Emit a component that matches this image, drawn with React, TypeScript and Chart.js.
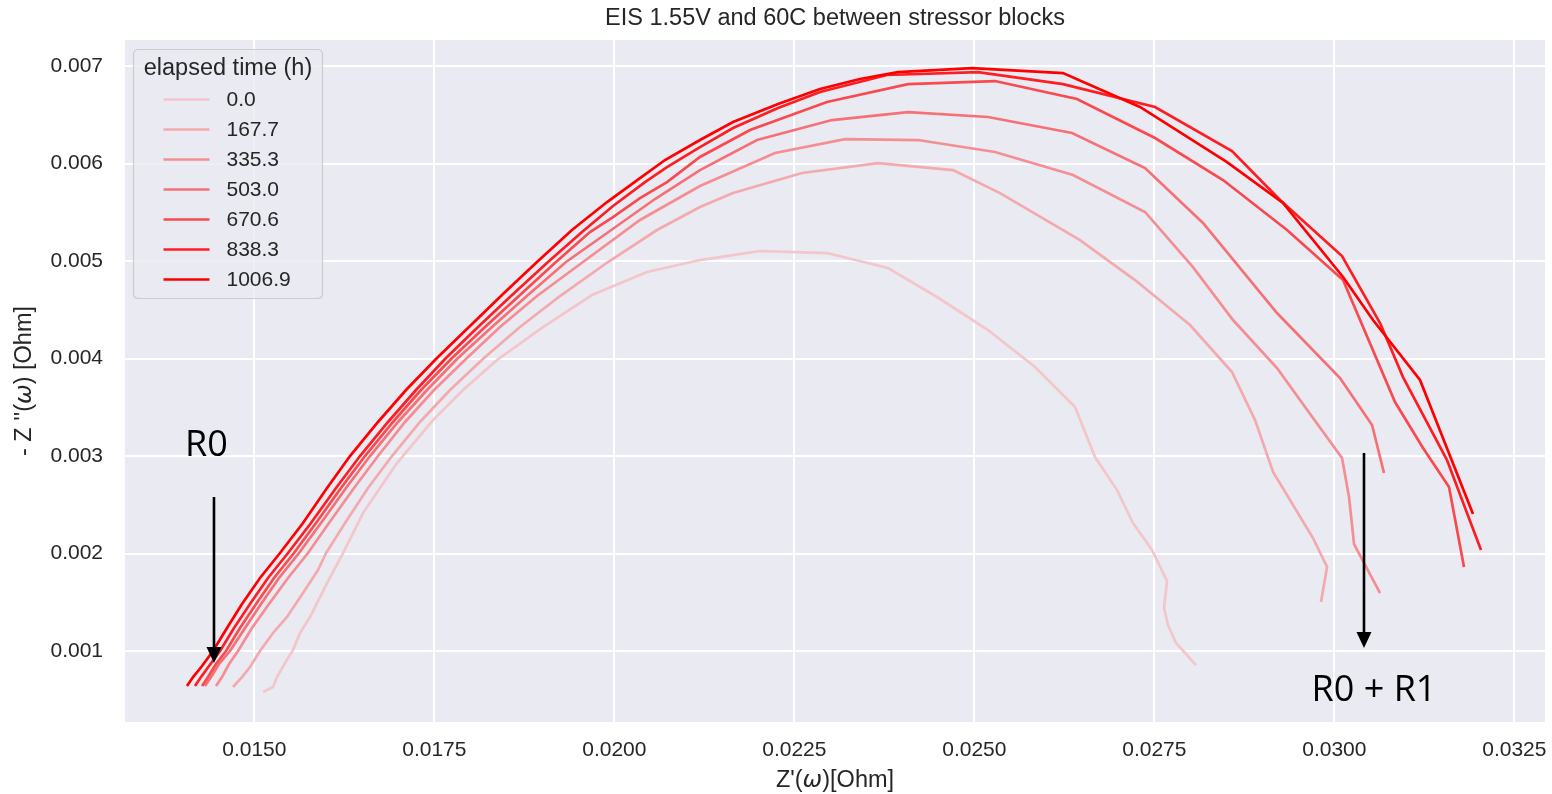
import React, { useEffect, useRef } from "react";
import { Chart, registerables } from "chart.js";

Chart.register(...registerables);

// ---------- data ----------
const seriesLabels = ["0.0", "167.7", "335.3", "503.0", "670.6", "838.3", "1006.9"];
const seriesColors = ["#f2c6ca", "#f3aaae", "#f48e93", "#f57176", "#f84a4f", "#fc1e22", "#ff0000"];

const re_0_0 = [0.015121, 0.01526, 0.015315, 0.015426, 0.015537, 0.015635, 0.015774, 0.01601, 0.016232, 0.01651, 0.016746, 0.016982, 0.017482, 0.017899, 0.018371, 0.01901, 0.01969, 0.020454, 0.02119, 0.022024, 0.022954, 0.023801, 0.024482, 0.02519, 0.025843, 0.026399, 0.026676, 0.026982, 0.027204, 0.027468, 0.027676, 0.027635, 0.02769, 0.027801, 0.028079];
const im_0_0 = [0.00058, 0.000631, 0.000733, 0.000877, 0.00101, 0.001185, 0.001349, 0.001697, 0.002005, 0.002415, 0.002672, 0.002928, 0.003369, 0.003677, 0.003985, 0.004323, 0.004651, 0.004887, 0.00501, 0.005103, 0.005082, 0.004928, 0.004631, 0.004292, 0.003913, 0.003503, 0.00299, 0.002651, 0.002313, 0.002036, 0.001718, 0.001441, 0.001267, 0.001082, 0.000856];

const re_167_7 = [0.014704, 0.014829, 0.01494, 0.015079, 0.01526, 0.015454, 0.015676, 0.015885, 0.015996, 0.01626, 0.016579, 0.016912, 0.017301, 0.017718, 0.01819, 0.01869, 0.019246, 0.019912, 0.020593, 0.02119, 0.021649, 0.022607, 0.023662, 0.024704, 0.025357, 0.026468, 0.027232, 0.027996, 0.028579, 0.028899, 0.029149, 0.029704, 0.029899, 0.029815];
const im_167_7 = [0.000631, 0.000733, 0.000836, 0.001, 0.001185, 0.001349, 0.001595, 0.001831, 0.002005, 0.002313, 0.002672, 0.003, 0.003349, 0.003677, 0.004005, 0.004323, 0.004641, 0.00499, 0.005318, 0.005554, 0.005697, 0.005903, 0.006005, 0.005933, 0.005697, 0.005215, 0.004805, 0.004344, 0.003862, 0.003369, 0.002836, 0.002159, 0.001862, 0.001503];

const re_335_3 = [0.014468, 0.014551, 0.014649, 0.014774, 0.014968, 0.015204, 0.015468, 0.015746, 0.016037, 0.016385, 0.016718, 0.017093, 0.017496, 0.017954, 0.018412, 0.018926, 0.019565, 0.020357, 0.02119, 0.022232, 0.023204, 0.024218, 0.025287, 0.026371, 0.027371, 0.028037, 0.028593, 0.029204, 0.029704, 0.030107, 0.030204, 0.030274, 0.030635];
const im_335_3 = [0.000641, 0.000733, 0.000867, 0.001, 0.001236, 0.001482, 0.001749, 0.002005, 0.002313, 0.002672, 0.003, 0.003349, 0.003677, 0.004005, 0.004323, 0.004641, 0.00499, 0.005421, 0.005769, 0.006108, 0.006251, 0.006241, 0.006118, 0.005882, 0.005503, 0.004938, 0.004395, 0.003903, 0.00339, 0.00298, 0.00258, 0.002097, 0.001595];

const re_503_0 = [0.014315, 0.014399, 0.01451, 0.014662, 0.014871, 0.015093, 0.015343, 0.015621, 0.015926, 0.016274, 0.016607, 0.016996, 0.017399, 0.017829, 0.018301, 0.018801, 0.019329, 0.019801, 0.020565, 0.02119, 0.021982, 0.023024, 0.024079, 0.02519, 0.026357, 0.027371, 0.028176, 0.029204, 0.030079, 0.030524, 0.03069];
const im_503_0 = [0.000641, 0.000733, 0.000867, 0.001, 0.001236, 0.001482, 0.001749, 0.002005, 0.002313, 0.002672, 0.003, 0.003349, 0.003677, 0.004005, 0.004323, 0.004651, 0.00499, 0.005236, 0.005636, 0.005933, 0.006241, 0.006446, 0.006528, 0.006477, 0.006313, 0.005954, 0.00539, 0.004467, 0.0038, 0.003318, 0.002826];

const re_670_6 = [0.014274, 0.014357, 0.014468, 0.014607, 0.014801, 0.015024, 0.015274, 0.015551, 0.015857, 0.016204, 0.016537, 0.016926, 0.017315, 0.017746, 0.018204, 0.01869, 0.01919, 0.019662, 0.019982, 0.020357, 0.020732, 0.02119, 0.021885, 0.022954, 0.024079, 0.025287, 0.026426, 0.02751, 0.028454, 0.029343, 0.030121, 0.030843, 0.031232, 0.031593, 0.031801];
const im_670_6 = [0.000641, 0.000733, 0.000867, 0.001, 0.001236, 0.001482, 0.001749, 0.002005, 0.002313, 0.002672, 0.003, 0.003349, 0.003677, 0.004005, 0.004323, 0.004651, 0.00499, 0.005297, 0.005451, 0.005646, 0.00581, 0.006067, 0.006344, 0.006631, 0.006815, 0.006846, 0.006662, 0.006262, 0.005831, 0.005318, 0.004805, 0.003554, 0.003082, 0.002682, 0.001862];

const re_838_3 = [0.014176, 0.01426, 0.014371, 0.014524, 0.014718, 0.01494, 0.01519, 0.015468, 0.015787, 0.016135, 0.016468, 0.016857, 0.017246, 0.017662, 0.018107, 0.018565, 0.019079, 0.019551, 0.019982, 0.020426, 0.020732, 0.02119, 0.021649, 0.022274, 0.022857, 0.023787, 0.025051, 0.026232, 0.02751, 0.028579, 0.029246, 0.030107, 0.030635, 0.030954, 0.031565, 0.032037];
const im_838_3 = [0.000641, 0.000733, 0.000846, 0.001, 0.001236, 0.001482, 0.001749, 0.002005, 0.002313, 0.002672, 0.003, 0.003349, 0.003677, 0.004005, 0.004323, 0.004641, 0.00499, 0.005297, 0.005564, 0.00581, 0.005964, 0.006169, 0.006364, 0.006569, 0.006733, 0.006908, 0.006938, 0.006815, 0.00658, 0.006128, 0.005626, 0.005051, 0.004364, 0.00381, 0.002959, 0.002036];

const re_1006_9 = [0.014065, 0.014149, 0.014274, 0.014426, 0.014621, 0.014829, 0.015079, 0.015357, 0.015676, 0.01601, 0.016329, 0.016718, 0.017107, 0.017537, 0.017996, 0.018454, 0.018926, 0.019412, 0.019899, 0.020357, 0.020704, 0.02119, 0.021649, 0.022274, 0.022857, 0.023412, 0.02394, 0.024968, 0.026232, 0.027301, 0.02851, 0.029287, 0.030121, 0.030537, 0.03119, 0.031926];
const im_1006_9 = [0.000641, 0.000733, 0.000846, 0.001, 0.001236, 0.001482, 0.001749, 0.002005, 0.002313, 0.002672, 0.003, 0.003349, 0.003677, 0.004005, 0.004333, 0.004662, 0.00499, 0.005318, 0.005605, 0.005851, 0.006036, 0.006241, 0.006426, 0.00661, 0.006764, 0.006867, 0.006938, 0.006979, 0.006928, 0.00658, 0.006015, 0.005595, 0.004836, 0.004395, 0.00378, 0.002405];

const seriesRe = [re_0_0, re_167_7, re_335_3, re_503_0, re_670_6, re_838_3, re_1006_9];
const seriesIm = [im_0_0, im_167_7, im_335_3, im_503_0, im_670_6, im_838_3, im_1006_9];

const xTicks = [0.015, 0.0175, 0.02, 0.0225, 0.025, 0.0275, 0.03, 0.0325];
const yTicks = [0.001, 0.002, 0.003, 0.004, 0.005, 0.006, 0.007];
const xRange = [0.013204, 0.032926];
const yRange = [0.000272, 0.007267];

// annotations (data coordinates)
const arrowsX = [0.01444, 0.030412];
const arrowsFrom = [0.00258, 0.003031];
const arrowsTo = [0.000877, 0.001031];
const notesText = ["R0", "R0 + R1"];
const notesX = [0.014336, 0.030551];
const notesY = [0.003, 0.000487];

const TITLE = "EIS 1.55V and 60C between stressor blocks";
const LEGEND_TITLE = "elapsed time (h)";

const FONT = '"Liberation Sans", Arial, sans-serif';
const TEXT = "#262626";

// ---------- plugins ----------
const bgPlugin = {
  id: "bg",
  beforeDraw(chart: any) {
    const { ctx, chartArea: a, width, height } = chart;
    ctx.save();
    ctx.fillStyle = "#ffffff";
    ctx.fillRect(0, 0, width, height);
    ctx.fillStyle = "#eaeaf2";
    ctx.fillRect(a.left, a.top, a.right - a.left, a.bottom - a.top);
    ctx.restore();
  },
};

function drawMixed(ctx: CanvasRenderingContext2D, parts: { t: string; it?: boolean }[], cx: number, cy: number, size: number) {
  const fonts = parts.map((p) => (p.it ? `italic ${size}px "DejaVu Sans", sans-serif` : `${size}px ${FONT}`));
  const widths = parts.map((p, i) => {
    ctx.font = fonts[i];
    return ctx.measureText(p.t).width;
  });
  const total = widths.reduce((s, w) => s + w, 0);
  let x = cx - total / 2;
  ctx.textAlign = "left";
  ctx.textBaseline = "middle";
  parts.forEach((p, i) => {
    ctx.font = fonts[i];
    ctx.fillText(p.t, x, cy);
    x += widths[i];
  });
}

const axisTitlePlugin = {
  id: "axisTitles",
  afterDraw(chart: any) {
    const { ctx, chartArea: a } = chart;
    ctx.save();
    ctx.fillStyle = TEXT;
    drawMixed(ctx, [{ t: "Z'(" }, { t: "ω", it: true }, { t: ")[Ohm]" }], (a.left + a.right) / 2, a.bottom + 59, 23.5);
    ctx.translate(25, (a.top + a.bottom) / 2);
    ctx.rotate(-Math.PI / 2);
    drawMixed(ctx, [{ t: "- Z ''(" }, { t: "ω", it: true }, { t: ") [Ohm]" }], 0, 0, 23.5);
    ctx.restore();
  },
};

const legendPlugin = {
  id: "customLegend",
  afterDatasetsDraw(chart: any) {
    const { ctx, chartArea: a } = chart;
    const x0 = a.left + 8.5;
    const y0 = a.top + 9.5;
    const w = 189;
    const h = 249;
    const r = 5;
    ctx.save();
    ctx.beginPath();
    ctx.moveTo(x0 + r, y0);
    ctx.lineTo(x0 + w - r, y0);
    ctx.quadraticCurveTo(x0 + w, y0, x0 + w, y0 + r);
    ctx.lineTo(x0 + w, y0 + h - r);
    ctx.quadraticCurveTo(x0 + w, y0 + h, x0 + w - r, y0 + h);
    ctx.lineTo(x0 + r, y0 + h);
    ctx.quadraticCurveTo(x0, y0 + h, x0, y0 + h - r);
    ctx.lineTo(x0, y0 + r);
    ctx.quadraticCurveTo(x0, y0, x0 + r, y0);
    ctx.closePath();
    ctx.fillStyle = "rgba(234,234,242,0.8)";
    ctx.fill();
    ctx.strokeStyle = "#cccccc";
    ctx.lineWidth = 1.2;
    ctx.stroke();

    ctx.fillStyle = TEXT;
    ctx.font = `23.5px ${FONT}`;
    ctx.textAlign = "center";
    ctx.textBaseline = "middle";
    ctx.fillText(LEGEND_TITLE, x0 + w / 2, y0 + 19);

    ctx.font = `21px ${FONT}`;
    ctx.textAlign = "left";
    chart.data.datasets.forEach((ds: any, i: number) => {
      const y = y0 + 50 + i * 30;
      ctx.strokeStyle = ds.borderColor;
      ctx.lineWidth = 2.7;
      ctx.beginPath();
      ctx.moveTo(x0 + 30, y);
      ctx.lineTo(x0 + 76, y);
      ctx.stroke();
      ctx.fillStyle = TEXT;
      ctx.fillText(ds.label, x0 + 93, y + 1);
    });
    ctx.restore();
  },
};

const annotationPlugin = {
  id: "notes",
  afterDraw(chart: any) {
    const { ctx } = chart;
    const xs = chart.scales.x;
    const ys = chart.scales.y;
    ctx.save();
    ctx.strokeStyle = "#000000";
    ctx.fillStyle = "#000000";
    ctx.lineWidth = 2.6;
    arrowsX.forEach((xv, i) => {
      const px = xs.getPixelForValue(xv);
      const p0 = ys.getPixelForValue(arrowsFrom[i]);
      const p1 = ys.getPixelForValue(arrowsTo[i]);
      const head = 16;
      ctx.beginPath();
      ctx.moveTo(px, p0);
      ctx.lineTo(px, p1 - head + 2);
      ctx.stroke();
      ctx.beginPath();
      ctx.moveTo(px, p1);
      ctx.lineTo(px - 7.5, p1 - head);
      ctx.lineTo(px + 7.5, p1 - head);
      ctx.closePath();
      ctx.fill();
    });
    ctx.font = '36px "Open Sans", "Noto Sans", sans-serif';
    ctx.textAlign = "center";
    ctx.textBaseline = "alphabetic";
    notesText.forEach((t, i) => {
      ctx.fillText(t, xs.getPixelForValue(notesX[i]), ys.getPixelForValue(notesY[i]));
    });
    ctx.restore();
  },
};

export default function App() {
  const ref = useRef<HTMLCanvasElement>(null);

  useEffect(() => {
    document.body.style.margin = "0";
    const datasets = seriesLabels.map((label, i) => ({
      label,
      data: seriesRe[i].map((x, j) => ({ x, y: seriesIm[i][j] })),
      borderColor: seriesColors[i],
      backgroundColor: seriesColors[i],
      borderWidth: 2.7,
      pointRadius: 0,
      showLine: true,
      tension: 0,
      order: seriesLabels.length - i,
    }));

    const chart = new Chart(ref.current as HTMLCanvasElement, {
      type: "scatter",
      data: { datasets },
      options: {
        animation: false,
        responsive: false,
        devicePixelRatio: 1,
        layout: { padding: { left: 0, right: 7, top: 0, bottom: 0 } },
        plugins: {
          legend: { display: false },
          tooltip: { enabled: false },
          title: {
            display: true,
            text: TITLE,
            fullSize: false,
            color: TEXT,
            font: { family: FONT, size: 23.5, weight: "normal", lineHeight: 1.2 },
            padding: { top: 4, bottom: 7.8 },
          },
        },
        scales: {
          x: {
            type: "linear",
            min: xRange[0],
            max: xRange[1],
            afterBuildTicks: (scale: any) => {
              scale.ticks = xTicks.map((v) => ({ value: v }));
            },
            afterFit: (scale: any) => {
              scale.height = 72;
              scale.paddingLeft = 0;
              scale.paddingRight = 0;
            },
            grid: { color: "#ffffff", lineWidth: 2, drawTicks: false },
            border: { display: false },
            ticks: {
              color: TEXT,
              font: { family: FONT, size: 21 },
              padding: 16,
              maxRotation: 0,
              autoSkip: false,
              callback: (v: any) => Number(v).toFixed(4),
            },
          },
          y: {
            type: "linear",
            min: yRange[0],
            max: yRange[1],
            afterBuildTicks: (scale: any) => {
              scale.ticks = yTicks.map((v) => ({ value: v }));
            },
            afterFit: (scale: any) => {
              scale.width = 125;
              scale.paddingTop = 0;
              scale.paddingBottom = 0;
            },
            grid: { color: "#ffffff", lineWidth: 2, drawTicks: false },
            border: { display: false },
            ticks: {
              color: TEXT,
              font: { family: FONT, size: 21 },
              padding: 22,
              autoSkip: false,
              callback: (v: any) => Number(v).toFixed(3),
            },
          },
        },
      },
      plugins: [bgPlugin, legendPlugin, annotationPlugin, axisTitlePlugin],
    } as any);

    return () => chart.destroy();
  }, []);

  return (
    <div style={{ width: 1552, height: 794 }}>
      <canvas ref={ref} width={1552} height={794} style={{ display: "block" }} />
    </div>
  );
}
